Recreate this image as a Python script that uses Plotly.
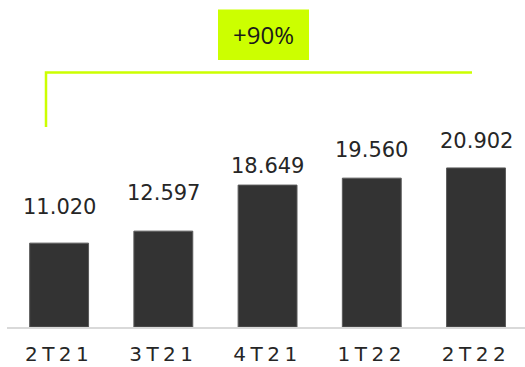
import plotly.graph_objects as go

# ---- data ----
categories = ["2T21", "3T21", "4T21", "1T22", "2T22"]
values = [11020, 12597, 18649, 19560, 20902]
value_labels = ["11.020", "12.597", "18.649", "19.560", "20.902"]
growth_label = "+90%"

# ---- style ----
W, H = 525, 367
ML, MR, MT, MB = 7, 0, 0, 40
BAR_COLOR = "#333333"
LIME = "#CCFF00"
label_shifts = [36, 38, 19, 28, 27]   # px above bar top (label centre)

pw, ph = W - ML - MR, H - MT - MB
def px(x):  # pixel x -> paper
    return (x - ML) / pw
def py(y):  # pixel y -> paper
    return (H - MB - y) / ph

fig = go.Figure()
fig.add_trace(go.Bar(
    x=categories, y=values,
    marker=dict(color=BAR_COLOR, line=dict(color="#5a5a5a", width=1)),
    width=0.565, hoverinfo="skip",
))

for c, v, t, s in zip(categories, values, value_labels, label_shifts):
    fig.add_annotation(x=c, y=v, text=t, showarrow=False, yanchor="middle",
                       yshift=s, font=dict(family="DejaVu Sans", size=21, color="#262626"))

# bracket
fig.add_shape(type="path",
              path=f"M {px(46)} {py(127)} L {px(46)} {py(72.5)} L {px(472)} {py(72.5)}",
              xref="paper", yref="paper", line=dict(color=LIME, width=2.5))
# growth box
fig.add_shape(type="rect", xref="paper", yref="paper",
              x0=px(218), x1=px(309), y0=py(60), y1=py(9.5),
              fillcolor=LIME, line=dict(width=0))
fig.add_annotation(xref="paper", yref="paper", x=px(263.5), y=py(35), text=growth_label,
                   showarrow=False, xanchor="center", yanchor="middle",
                   font=dict(family="Open Sans", size=24, color="#1a1a1a"))

fig.update_layout(
    width=W, height=H,
    margin=dict(l=ML, r=MR, t=MT, b=MB, pad=0),
    paper_bgcolor="white", plot_bgcolor="white",
    showlegend=False,
    xaxis=dict(type="category", range=[-0.5, 4.47], showline=True, linecolor="#d9d9d9",
               linewidth=2, showgrid=False, zeroline=False, ticks="outside", ticklen=8,
               tickcolor="rgba(0,0,0,0)",
               tickfont=dict(family="DejaVu Sans", size=20, color="#262626")),
    yaxis=dict(range=[0, ph / 7.61 * 1000], visible=False, showgrid=False, zeroline=False),
)

post = """
var gd = document.getElementById('{plot_id}');
function ls(){ document.querySelectorAll('.xtick text').forEach(function(t){ t.style.letterSpacing='4.5px'; }); }
ls(); gd.on('plotly_afterplot', ls);
"""
fig.write_html("out.html", post_script=post, config={"displayModeBar": False})
